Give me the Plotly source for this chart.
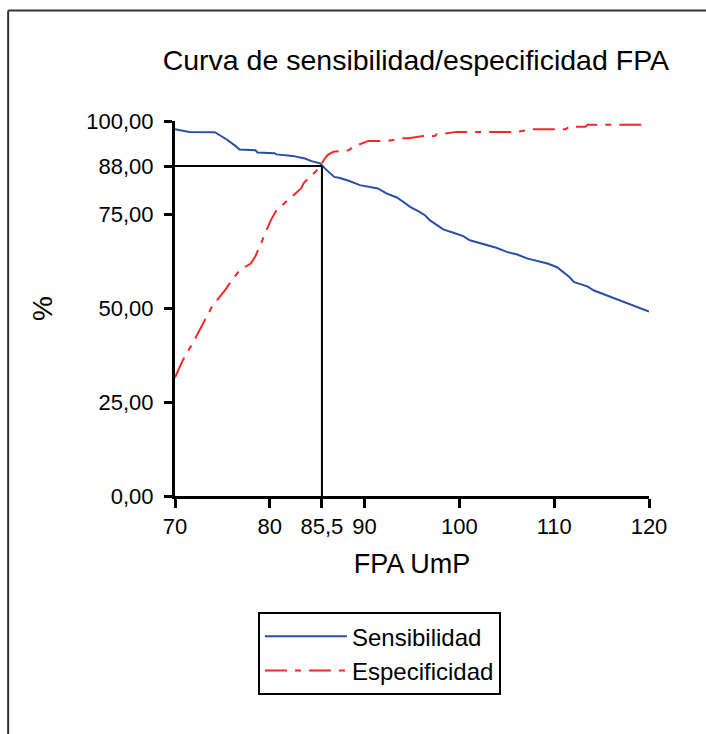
import plotly.graph_objects as go

# Sensibilidad (blue)
sens_x = [70.0, 71.5, 74.2, 74.7, 75.5, 76.4, 76.8, 78.5, 78.7, 80.5, 80.7, 82.4, 82.8, 83.7,
          84.4, 85.3, 86.0, 86.8, 87.4, 88.4, 89.5, 90.6, 91.4, 92.3, 93.4, 94.1, 94.8, 95.7,
          96.4, 96.9, 97.5, 98.3, 99.6, 100.4, 101.1, 102.0, 103.0, 103.9, 105.0, 106.1, 107.2,
          108.2, 109.3, 110.3, 111.0, 111.6, 112.1, 112.8, 113.5, 114.2, 115.3, 116.2, 117.0,
          117.9, 118.8, 119.8, 120.0]
sens_y = [97.8, 97.1, 97.0, 96.3, 95.0, 93.3, 92.4, 92.2, 91.6, 91.4, 91.1, 90.7, 90.5, 90.0,
          89.3, 88.7, 86.9, 85.1, 84.8, 84.0, 82.9, 82.4, 82.0, 80.7, 79.6, 78.4, 77.1, 75.9,
          74.8, 73.5, 72.4, 71.1, 70.0, 69.3, 68.2, 67.5, 66.8, 66.2, 65.1, 64.4, 63.3,
          62.6, 62.0, 61.0, 59.7, 58.4, 57.0, 56.4, 55.9, 54.8, 53.7, 53.0, 52.1,
          51.3, 50.2, 49.3, 49.2]

# Especificidad (red)
esp_x = [70.0, 70.8, 72.0, 72.9, 73.9, 75.4, 75.6, 76.8, 78.0, 78.5, 79.2, 79.5, 80.1, 80.7,
         81.4, 83.3, 83.6, 85.2, 85.7, 86.1, 86.7, 88.3, 88.8, 90.4, 92.5, 94.1, 94.6, 96.2,
         97.4, 97.6, 98.1, 99.7, 104.0, 106.1, 107.7, 109.6, 111.2, 111.6, 113.3, 113.5, 120.0]
esp_y = [31.6, 36.1, 41.4, 45.9, 50.5, 55.3, 56.1, 60.2, 62.0, 64.0, 68.2, 69.5, 73.5, 76.2,
         77.8, 82.0, 83.5, 87.4, 89.6, 90.9, 91.8, 92.2, 93.1, 94.7, 94.7, 95.4, 95.4, 96.0,
         96.0, 96.5, 96.5, 97.1, 97.1, 97.1, 97.8, 97.8, 97.8, 98.5, 98.5, 99.0, 99.0]

x_tickvals = [70, 80, 85.5, 90, 100, 110, 120]
x_ticktext = ["70", "80", "85,5", "90", "100", "110", "120"]
y_tickvals = [0, 25, 50, 75, 88, 100]
y_ticktext = ["0,00", "25,00", "50,00", "75,00", "88,00", "100,00"]

cut_x = 85.5
cut_y = 88

FONT = "Liberation Sans, Arial, Helvetica, sans-serif"

fig = go.Figure()
fig.add_trace(go.Scatter(x=sens_x, y=sens_y, mode="lines", name="Sensibilidad",
                         line=dict(color="#2a4ea6", width=2)))
fig.add_trace(go.Scatter(x=esp_x, y=esp_y, mode="lines", name="Especificidad",
                         line=dict(color="#f02a2a", width=2, dash="22px,8px,6px,8px")))

# reference lines
fig.add_shape(type="line", xref="x", yref="y", x0=70, x1=cut_x, y0=cut_y, y1=cut_y,
              line=dict(color="black", width=2))
fig.add_shape(type="line", xref="x", yref="y", x0=cut_x, x1=cut_x, y0=0, y1=cut_y,
              line=dict(color="black", width=2))

# outer frame (left and top edges only visible in the picture)
fig.add_shape(type="line", xref="paper", yref="paper", x0=-0.352, x1=-0.352, y0=-0.7, y1=1.295,
              line=dict(color="#333333", width=2))
fig.add_shape(type="line", xref="paper", yref="paper", x0=-0.352, x1=1.125, y0=1.295, y1=1.295,
              line=dict(color="#333333", width=2))

fig.update_layout(
    width=706, height=734,
    margin=dict(l=175, r=57, t=121, b=238),
    paper_bgcolor="white", plot_bgcolor="white",
    font=dict(family=FONT, size=22, color="black"),
    title=dict(text="Curva de sensibilidad/especificidad FPA", x=0.589, xanchor="center",
               y=1 - 60 / 734, yanchor="middle", xref="container", yref="container",
               font=dict(size=28.5, family=FONT, color="black")),
    showlegend=True,
    legend=dict(x=0.175, y=-0.31, xanchor="left", yanchor="top",
                bordercolor="black", borderwidth=2, bgcolor="white",
                font=dict(size=24, family=FONT), itemwidth=82),
    xaxis=dict(range=[70, 120], tickvals=x_tickvals, ticktext=x_ticktext, automargin=False,
               showgrid=False, zeroline=False, showline=True, linecolor="black", linewidth=3,
               ticks="outside", ticklen=9, tickwidth=3, tickcolor="black",
               title=dict(text="FPA UmP", standoff=16, font=dict(size=27))),
    yaxis=dict(range=[0, 100], tickvals=y_tickvals, ticktext=y_ticktext, automargin=False,
               showgrid=False, zeroline=False, showline=True, linecolor="black", linewidth=3,
               ticks="outside", ticklen=8, tickwidth=3, tickcolor="black",
               ticklabelstandoff=6,
               title=dict(text="%", standoff=26, font=dict(size=28))),
)

fig.write_html("out.html", config={"displayModeBar": False},
               post_script="document.body.style.margin='0';document.body.style.overflow='hidden';")
